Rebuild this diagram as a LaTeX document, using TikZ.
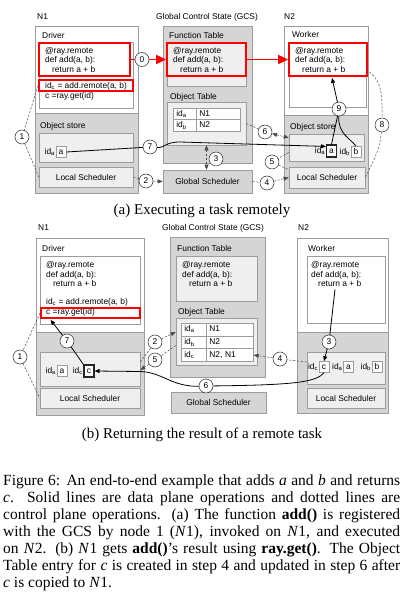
\documentclass[tikz,border=0pt]{standalone}
\usepackage{fontspec}
\setmainfont{Liberation Serif}
\newfontfamily\diagfont{Liberation Sans}
\usetikzlibrary{fit,arrows.meta}
\definecolor{areagray}{HTML}{D5D5D5}
\definecolor{panelgray}{HTML}{EFEFEF}
\definecolor{edgegray}{HTML}{9C9C9C}
\definecolor{ctrlgray}{HTML}{4A4A4A}
\newcommand{\addcode}{@ray.remote\\def add(a, b):\\\hspace*{7pt}return a + b}
\tikzset{
  nodeframe/.style={draw=edgegray, line width=0.6pt, inner sep=0pt},
  area/.style={fill=areagray, draw=edgegray, line width=0.6pt, inner sep=0pt},
  panel/.style={draw=edgegray, fill=panelgray, line width=0.6pt, inner sep=0pt},
  whitebox/.style={draw=edgegray, fill=white, line width=0.6pt, inner sep=0pt},
  redbox/.style={draw=red, line width=1.8pt, inner sep=0pt},
  lbl/.style={anchor=west, inner sep=0pt, font=\diagfont\fontsize{8.4}{9.7}\selectfont},
  codetext/.style={lbl, align=left},
  valbox/.style={draw=edgegray, fill=white, line width=0.6pt, inner sep=0pt,
    minimum width=10pt, minimum height=11pt, text height=6pt, text depth=1pt,
    font=\diagfont\fontsize{8.4}{9.7}\selectfont},
  hotbox/.style={valbox, draw=black!85, line width=1.1pt, minimum height=12pt},
  num/.style={circle, draw=black!85, fill=white, line width=0.5pt, inner sep=0pt,
    minimum size=14pt, font=\diagfont\fontsize{8.4}{9.7}\selectfont},
  cell/.style={draw=edgegray, fill=white, line width=0.6pt, inner xsep=3pt, inner ysep=0pt,
    anchor=north west, align=left, text height=6pt, text depth=1.5pt,
    font=\diagfont\fontsize{8.4}{9.7}\selectfont},
  ctrlline/.style={draw=ctrlgray, line width=0.5pt, dash pattern=on 2.2pt off 1.6pt},
  dataline/.style={draw=black, line width=0.8pt},
  arrowend/.style={-{Triangle[length=5pt,width=4pt]}},
  arrowboth/.style={{Triangle[length=5pt,width=4pt]}-{Triangle[length=5pt,width=4pt]}},
  redline/.style={draw=red, line width=1.8pt},
  bigarrow/.style={-{Triangle[length=10pt,width=9pt]}},
  capt/.style={inner sep=0pt, font=\fontsize{15}{18}\selectfont}
}
\begin{document}
\begin{tikzpicture}[x=1pt,y=-1pt]
\useasboundingbox (0,0) rectangle (407,593);

% (a) node N1
\node[area, fit={(35,113) (138,193)}] (st1) {};
\node[nodeframe, fit={(35,26) (138,193)}] (n1) {};
\node[lbl] at (37,17) {N1};
\node[lbl] at (42,36) {Driver};
\node[whitebox, fit={(39,42) (133,108)}] (drv1) {};
\node[redbox, fit={(39,43) (130,76)}] (def1) {};
\node[codetext] at (45,60) {\addcode};
\node[redbox, fit={(39,80) (133,91)}] (call1) {};
\node[lbl] at (45,86) {id\textsubscript{c} = add.remote(a, b)};
\node[lbl] at (45,96) {c =ray.get(id)};
\node[lbl] at (40,126) {Object store};
\node[panel, fit={(39,133) (133,162)}] (os1) {};
\node[valbox] (a1) at (61,152) {a};
\node[lbl, anchor=east, xshift=-0.5pt] at (a1.west) {id\textsubscript{a}};
\node[panel, fit={(39,167) (133,187)}] (ls1) {};
\node[lbl, anchor=center] at (ls1) {Local Scheduler};

% (a) GCS
\node[lbl, anchor=center] at (207,17) {Global Control State (GCS)};
\node[area, fit={(163,26) (252,163)}] (gcs1) {};
\node[lbl] at (169,36) {Function Table};
\node[panel, fit={(167,42) (246,86)}] (ft1) {};
\node[redbox, fit={(167,43) (246,76)}] (def2) {};
\node[codetext] at (173,60) {\addcode};
\node[lbl] at (170,97) {Object Table};
\node[panel, fit={(167,102) (246,145)}] (ot1) {};
\foreach \r/\k/\nd in {0/a/N1, 1/b/N2} {
  \node[cell, text width=17pt, minimum height=11.5pt] (t1id\k) at (173,108+11.5*\r) {id\textsubscript{\k}};
  \node[cell, text width=38pt, minimum height=11.5pt] (t1loc\k) at (196,108+11.5*\r) {\nd};
}
\node[area, fit={(163,170) (252,193)}] (gs1) {};
\node[lbl, anchor=center] at (gs1) {Global Scheduler};

% (a) node N2
\node[area, fit={(284,115) (368,193)}] (st2) {};
\node[nodeframe, fit={(284,26) (368,193)}] (n2) {};
\node[lbl] at (284,17) {N2};
\node[lbl] at (292,35) {Worker};
\node[whitebox, fit={(289,43) (366,107)}] (wk2) {};
\node[redbox, fit={(289,43) (367,76)}] (def3) {};
\node[codetext] at (295,60) {\addcode};
\node[lbl] at (290,127) {Object store};
\node[panel, fit={(289,134) (364,161)}] (os2) {};
\node[hotbox] (a2) at (331.5,151) {a};
\node[lbl, anchor=east, xshift=-0.5pt] at (a2.west) {id\textsubscript{a}};
\node[valbox] (b2) at (356,152) {b};
\node[lbl, anchor=east, xshift=-0.5pt] at (b2.west) {id\textsubscript{b}};
\node[panel, fit={(289,167) (365,188)}] (ls2) {};
\node[lbl, anchor=center] at (ls2) {Local Scheduler};

% (a) steps
\node[num] (s0) at (142,59.5) {0};
\node[num] (s1) at (22,137) {1};
\node[num] (s2) at (146,181) {2};
\node[num] (s3) at (216,159) {3};
\node[num] (s4) at (267,183) {4};
\node[num] (s5) at (272,162) {5};
\node[num] (s6) at (265,132) {6};
\node[num] (s7) at (150,147) {7};
\node[num] (s8) at (382,125) {8};
\node[num] (s9) at (339,109) {9};

\draw[redline] (def1.east) -- (s0);
\draw[redline, bigarrow] (s0) -- (def2.west);
\draw[redline, bigarrow] (def2.east) -- (def3.west);
\draw[ctrlline] (call1.west) -- (s1) -- (ls1.west);
\draw[ctrlline, arrowend] (ls1.east) -- (s2) -- (gs1.west);
\draw[ctrlline, arrowboth] (ot1.south) -- (ot1.south |- gs1.north);
\draw[ctrlline, arrowend] (gs1.east) -- (s4) -- (ls2.west);
\draw[ctrlline] ([yshift=-5pt]os2.west) -- (s5) -- ([yshift=-3pt]ls2.north west);
\draw[ctrlline, arrowboth] (ot1.east) -- (s6) -- ([yshift=-4pt]os2.north west);
\draw[dataline] (a1.east) -- (s7);
\draw[dataline, arrowend] (s7) .. controls (165,148) and (165,142) .. (180,142) -- ([yshift=-2pt]a2.north west);
\draw[dataline] (a2.north) -- (s9);
\draw[dataline] (b2.north) .. controls (350,138) and (338,134) .. (s9);
\draw[dataline, arrowend] (s9) -- ([xshift=4pt,yshift=-1pt]def3.south);
\draw[ctrlline] ([yshift=5pt]wk2.east) to[out=-30, in=90] (s8);
\draw[ctrlline] (s8) to[out=-95, in=65] (ls2.east);

\node[capt] (capa) at (202,211) {(a) Executing a task remotely};

% (b) node N1
\node[area, fit={(36,332) (144,415)}] (st3) {};
\node[nodeframe, fit={(36,238) (144,415)}] (n3) {};
\node[lbl] at (38,228) {N1};
\node[lbl] at (42,248) {Driver};
\node[whitebox, fit={(40,256) (140,324)}] (drv3) {};
\node[codetext] at (46,274) {\addcode};
\node[lbl] at (46,302) {id\textsubscript{c} = add.remote(a, b)};
\node[redbox, fit={(41,308) (140,318)}] (get3) {};
\node[lbl] at (46,312.5) {c =ray.get(id)};
\node[panel, fit={(40,352) (140,386)}] (os3) {};
\node[valbox] (a3) at (62,371) {a};
\node[lbl, anchor=east, xshift=-0.5pt] at (a3.west) {id\textsubscript{a}};
\node[hotbox] (c3) at (89,371) {c};
\node[lbl, anchor=east, xshift=-0.5pt] at (c3.west) {id\textsubscript{c}};
\node[panel, fit={(40,388) (140,408)}] (ls3) {};
\node[lbl, anchor=center] at (ls3) {Local Scheduler};

% (b) GCS
\node[lbl, anchor=center] at (213,228) {Global Control State (GCS)};
\node[area, fit={(170,237) (265,377)}] (gcs3) {};
\node[lbl] at (177,248) {Function Table};
\node[panel, fit={(176,256) (257,301)}] (ft3) {};
\node[codetext] at (182,274) {\addcode};
\node[lbl] at (178,312) {Object Table};
\node[panel, fit={(176,318) (257,365)}] (ot3) {};
\foreach \r/\k/\nd in {0/a/N1, 1/b/N2, 2/c/{N2, N1}} {
  \node[cell, text width=19pt, minimum height=12.7pt] (t3id\k) at (181,323+12.7*\r) {id\textsubscript{\k}};
  \node[cell, text width=41pt, minimum height=12.7pt] (t3loc\k) at (206,323+12.7*\r) {\nd};
}
\node[area, fit={(171,392) (266,413)}] (gs3) {};
\node[lbl, anchor=center] at (gs3) {Global Scheduler};

% (b) node N2
\node[area, fit={(297,332) (388,413)}] (st4) {};
\node[nodeframe, fit={(297,238) (388,413)}] (n4) {};
\node[lbl] at (298,228) {N2};
\node[lbl] at (308,248) {Worker};
\node[whitebox, fit={(307,256) (385,323)}] (wk4) {};
\node[codetext] at (311,274) {\addcode};
\node[panel, fit={(307,352) (385,384)}] (os4) {};
\node[valbox] (c4) at (324,367) {c};
\node[lbl, anchor=east, xshift=-0.5pt] at (c4.west) {id\textsubscript{c}};
\node[valbox] (a4) at (348.5,367) {a};
\node[lbl, anchor=east, xshift=-0.5pt] at (a4.west) {id\textsubscript{a}};
\node[valbox] (b4) at (377,367) {b};
\node[lbl, anchor=east, xshift=-0.5pt] at (b4.west) {id\textsubscript{b}};
\node[panel, fit={(307,388) (385,408)}] (ls4) {};
\node[lbl, anchor=center] at (ls4) {Local Scheduler};

% (b) steps
\node[num] (r1) at (20,357) {1};
\node[num] (r2) at (155,342) {2};
\node[num] (r3) at (329,342) {3};
\node[num] (r4) at (280,359) {4};
\node[num] (r5) at (155,360) {5};
\node[num] (r6) at (206,386) {6};
\node[num] (r7) at (67,341) {7};

\draw[ctrlline] (get3.west) -- (r1) -- (ls3.west);
\draw[dataline, arrowend] (c3.north west) -- (r7) -- ([xshift=-40pt,yshift=-1pt]get3.south);
\draw[ctrlline, arrowend] ([yshift=7pt]os3.east) -- (r2) -- ([yshift=9.5pt]ot3.west);
\draw[ctrlline, arrowend] ([yshift=-4pt]ot3.west) -- (r5) -- ([yshift=-1pt]os3.east);
\draw[dataline, arrowend] ([xshift=-11pt]wk4.center) -- (r3) -- (c4.north);
\draw[ctrlline, arrowend] ([yshift=6pt]os4.west) -- (r4) -- (t3locc.east);
\draw[dataline, arrowend] (c4.south) .. controls (316,382) and (296,385) .. (r6)
  .. controls (172,387) and (162,372) .. (140,371.5) -- (c3.east);

\node[capt] (capb) at (202,435) {(b) Returning the result of a remote task};
\node[capt, font=\fontsize{15.5}{17}\selectfont, text width=397pt, align=justify, anchor=north west] (fig) at (3,475)
  {Figure 6: An end-to-end example that adds \textit{a} and \textit{b} and returns\linebreak
   \textit{c}. Solid lines are data plane operations and dotted lines are\linebreak
   control plane operations. (a) The function \textbf{add()} is registered\linebreak
   with the GCS by node 1 (\textit{N}1), invoked on \textit{N}1, and executed\linebreak
   on \textit{N}2. (b) \textit{N}1 gets \textbf{add()}'s result using \textbf{ray.get()}. The Object\linebreak
   Table entry for \textit{c} is created in step 4 and updated in step 6 after\linebreak
   \textit{c} is copied to \textit{N}1.};
\end{tikzpicture}
\end{document}
